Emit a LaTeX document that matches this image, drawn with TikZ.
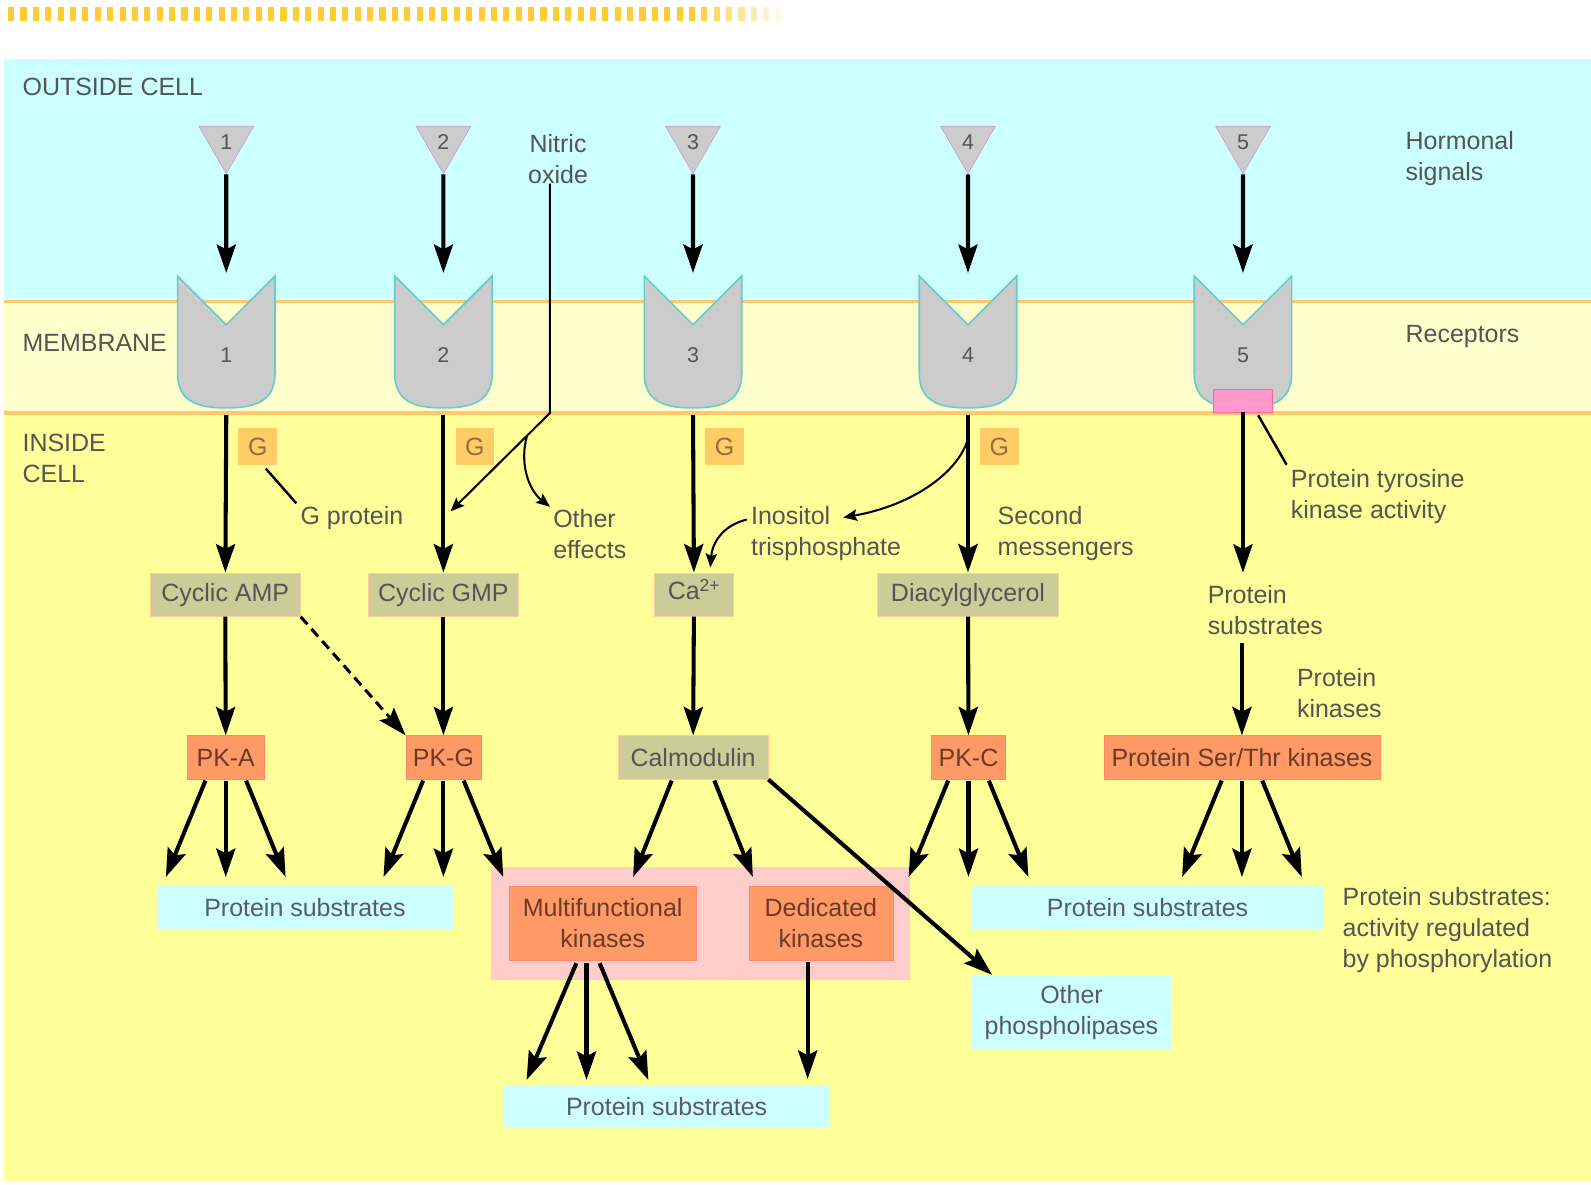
\documentclass[tikz,border=0pt]{standalone}
\usepackage{fontspec}
\setmainfont{Liberation Sans}
\usetikzlibrary{arrows.meta,shapes.geometric,calc}
\definecolor{outc}{RGB}{204,255,255}
\definecolor{memc}{RGB}{255,255,204}
\definecolor{inc}{RGB}{255,255,153}
\definecolor{linec}{RGB}{255,200,110}
\definecolor{dashc}{RGB}{255,204,51}
\definecolor{recf}{RGB}{204,204,204}
\definecolor{recd}{RGB}{102,204,204}
\definecolor{ligd}{RGB}{204,153,204}
\definecolor{gc}{RGB}{255,204,102}
\definecolor{gt}{RGB}{150,110,60}
\definecolor{khaki}{RGB}{204,204,153}
\definecolor{khakid}{RGB}{255,204,153}
\definecolor{kinc}{RGB}{255,153,102}
\definecolor{kind}{RGB}{255,136,102}
\definecolor{kint}{RGB}{105,60,40}
\definecolor{grpc}{RGB}{255,204,204}
\definecolor{subc}{RGB}{204,255,255}
\definecolor{subt}{RGB}{90,90,105}
\definecolor{ptkc}{RGB}{255,153,204}
\definecolor{ptkd}{RGB}{255,102,153}
\definecolor{txtc}{RGB}{85,85,85}
\begin{document}
\begin{tikzpicture}[
    x=0.025cm, y=-0.025cm,
    every node/.style={font=\fontsize{17.5}{21.7}\selectfont, text=txtc},
    numf/.style={font=\fontsize{15}{18}\selectfont},
    lig/.style={regular polygon, regular polygon sides=3, shape border rotate=180, minimum size=1.56cm, inner sep=0, fill=recf, draw=ligd, numf},
    rec/.style={fill=recf, draw=recd, line width=0.04cm},
    memline/.style={draw=linec, line width=0.075cm},
    gbox/.style={rectangle, fill=gc, text=gt, minimum width=0.95cm, minimum height=0.925cm, inner sep=0},
    msg/.style={rectangle, draw=khakid, fill=khaki, minimum height=1.075cm, inner sep=0},
    kin/.style={rectangle, draw=kind, fill=kinc, text=kint, minimum height=1.075cm, inner sep=0},
    sub/.style={rectangle, fill=subc, text=subt, minimum height=1.075cm, inner sep=0},
    lbl/.style={align=left, inner sep=0},
    sig/.style={-{Stealth[length=0.7cm,width=0.47cm,inset=0.12cm]}, line width=0.1cm},
    fine/.style={-{Stealth[length=0.34cm,width=0.28cm,inset=0.06cm]}, line width=0.05cm},
    lead/.style={line width=0.06cm}
]
\useasboundingbox (0,0) rectangle (1568,1167);
\fill[outc] (4,58) rectangle (1568,297);
\fill[memc] (4,297) rectangle (1568,407);
\fill[inc] (4,407) rectangle (1568,1165);
\foreach \i in {0,...,62} {
  \pgfmathsetmacro\op{min(1,(63-\i)/8)}
  \fill[dashc, opacity=\op] (8+12.2*\i,7) rectangle ++(6,14);
}
\draw[memline] (4,297) -- (1568,297);
\draw[memline] (4,407) -- (1568,407);

\foreach \cx/\i in {223/1,437/2,683/3,954/4,1225/5} {
  \node[lig] (lig\i) at (\cx,140) {\i};
  \draw[rec] (\cx-48,272) -- (\cx,320) -- (\cx+48,272) -- (\cx+48,368) .. controls (\cx+48,396) and (\cx+28,402) .. (\cx,402) .. controls (\cx-28,402) and (\cx-48,396) .. (\cx-48,368) -- cycle;
  \node[numf] (rec\i) at (\cx,350) {\i};
  \coordinate (rtop\i) at (\cx,269);
  \coordinate (rbot\i) at (\cx,409);
  \draw[sig] (lig\i) -- (rtop\i);
}
\node[rectangle, fill=ptkc, draw=ptkd, minimum width=1.45cm, minimum height=0.55cm, inner sep=0] (ptk) at (1225,395) {};
\foreach \cx/\i in {223/1,437/2,683/3,954/4}
  \node[gbox] (g\i) at (\cx+31,440) {G};

\node[lbl, anchor=west] (outside) at (22,86) {OUTSIDE CELL};
\node[lbl, anchor=west] (membr) at (22,338) {MEMBRANE};
\node[lbl, anchor=west] (inside) at (22,452) {INSIDE\\CELL};
\node[lbl, anchor=west] (horm) at (1385,156.5) {Hormonal\\signals};
\node[lbl, anchor=west] (recl) at (1385,332) {Receptors};
\node[lbl, align=center] (no) at (550,156.5) {Nitric\\oxide};
\node[lbl, anchor=west] (gprot) at (296,511) {G protein};
\node[lbl, anchor=west] (oth) at (545,526) {Other\\effects};
\node[lbl, anchor=west] (ip3) at (740,526) {Inositol\\trisphosphate};
\node[lbl, anchor=west] (sec) at (983,526) {Second\\messengers};
\node[lbl, anchor=west] (tyr) at (1272,489) {Protein tyrosine\\kinase activity};
\node[lbl, anchor=west] (psub) at (1190,601) {Protein\\substrates};
\node[lbl, anchor=west] (pkin) at (1278,683) {Protein\\kinases};
\node[lbl, anchor=west] (note) at (1323,917) {Protein substrates:\\activity regulated\\by phosphorylation};

\node[msg, minimum width=3.7cm] (camp) at (222,586) {Cyclic AMP};
\node[msg, minimum width=3.7cm] (cgmp) at (437,586) {Cyclic GMP};
\node[msg, minimum width=1.95cm, text height=0.95em, text depth=0.2em] (ca) at (684,586) {Ca\textsuperscript{2+}};
\node[msg, minimum width=4.45cm] (dag) at (954,586) {Diacylglycerol};

\node[kin, minimum width=1.875cm] (pka) at (222.5,746.5) {PK-A};
\node[kin, minimum width=1.85cm] (pkg) at (437,746.5) {PK-G};
\node[msg, minimum width=3.7cm] (calm) at (683,746.5) {Calmodulin};
\node[kin, minimum width=1.83cm] (pkc) at (954.5,746.5) {PK-C};
\node[kin, minimum width=6.8cm] (ser) at (1224,746.5) {Protein Ser/Thr kinases};

\node[rectangle, fill=grpc, minimum width=10.325cm, minimum height=2.8cm] (grp) at (690.5,910) {};
\node[sub, minimum width=7.275cm] (psl) at (300.5,894.5) {Protein substrates};
\node[kin, minimum width=4.6cm, minimum height=1.825cm, align=center] (mfk) at (594,909.5) {Multifunctional\\kinases};
\node[kin, minimum width=3.55cm, minimum height=1.825cm, align=center] (dk) at (809,909.5) {Dedicated\\kinases};
\node[sub, minimum width=8.65cm] (psr) at (1131,894.5) {Protein substrates};
\node[sub, minimum width=4.9cm, minimum height=1.825cm, align=center] (oph) at (1056,997.5) {Other\\phospholipases};
\node[sub, minimum width=8.05cm] (psb) at (657,1090.5) {Protein substrates};

\coordinate (nob) at (542,407);
\coordinate (nod) at (444,504);
\coordinate (ip3tip) at (831,510);
\draw[fine] (no.south -| nob) -- (nob) -- (nod);
\draw[fine] ($(nob)!0.23!(nod)$) .. controls (512,455) and (520,482) .. ([shift={(-3,-2)}]oth.north west);
\draw[fine] ([shift={(-4,-14)}]ip3.west) .. controls (712,518) and (702,535) .. ([shift={(16,-5)}]ca.north);
\draw[fine] ($(rbot4)!0.15!(dag.north)$) .. controls (945,465) and (900,498) .. (ip3tip);
\draw[lead] ([shift={(8,3)}]g1.south) -- ([shift={(-4,-15)}]gprot.west);
\draw[lead] ([shift={(15,3)}]ptk.south) -- ([shift={(-4,-31)}]tyr.west);

\draw[sig] (rbot1) -- (camp);
\draw[sig] (rbot2) -- (cgmp);
\draw[sig] (rbot3) -- (ca);
\draw[sig] (rbot4) -- (dag);
\draw[sig] (ptk) -- ([yshift=0.3cm]ptk |- psub.north);
\draw[sig] ([yshift=-0.2cm]ser.north |- psub.south) -- (ser);
\draw[sig] (camp) -- (pka);
\draw[sig] (cgmp) -- (pkg);
\draw[sig] (ca) -- (calm);
\draw[sig] (dag) -- (pkc);
\draw[sig, line width=0.075cm, dash pattern=on 0.25cm off 0.15cm] (camp.south east) -- (pkg.north west);
\foreach \k in {pka,pkg,pkc,ser}
  \foreach \d in {-1,0,1}
    \draw[sig] ([shift={(20*\d,1)}]\k.south) -- ([shift={(59*\d,96)}]\k.south);
\foreach \d in {-1,1}
  \draw[sig] ([shift={(21*\d,1)}]calm.south) -- ([shift={(59*\d,96)}]calm.south);
\draw[sig] (calm.south east) -- ([xshift=0.5cm]oph.north west);
\foreach \a/\b in {-26/-75,-16/-16,-3/45}
  \draw[sig] ([shift={(\a,3)}]mfk.south) -- ([shift={(\b,118)}]mfk.south);
\draw[sig] ([shift={(-13,2)}]dk.south) -- ([shift={(-13,117)}]dk.south);
\end{tikzpicture}
\end{document}
